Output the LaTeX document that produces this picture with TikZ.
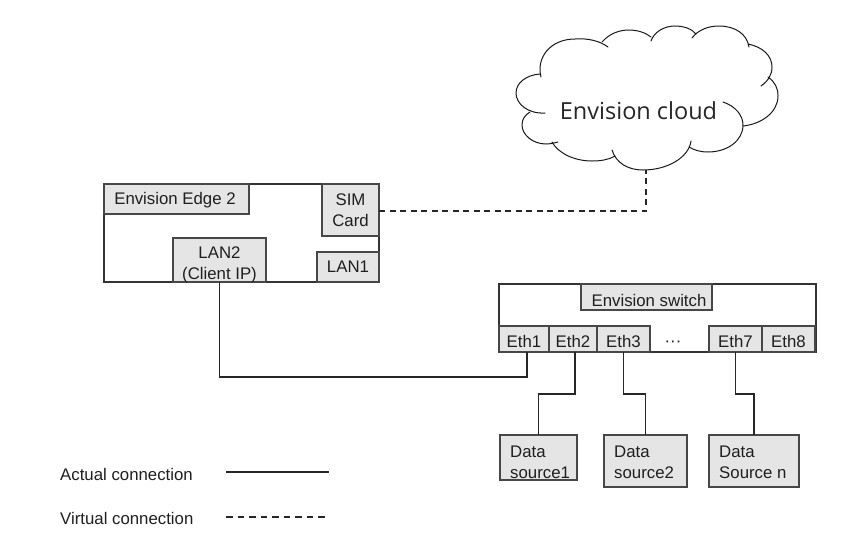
\documentclass[tikz,border=0pt]{standalone}
\usepackage{fontspec}
\setmainfont{Liberation Sans}
\newfontfamily\cloudfont{Open Sans}
\tikzset{
  x=1pt,y=-1pt,
  lbl/.style={font=\fontsize{16.8}{21}\selectfont,text=black!88,inner sep=0pt,align=center},
  gbox/.style={draw=black!72,line width=1.2pt,fill=black!10,inner sep=0pt,outer sep=0pt},
  framebox/.style={draw=black!80,line width=1.2pt,fill=white,inner sep=0pt,outer sep=0pt},
  actual/.style={draw=black!85,line width=1.2pt},
  virtual/.style={draw=black!85,line width=1.2pt,dash pattern=on 6pt off 4.5pt},
  legenddash/.style={draw=black!85,line width=1.2pt,dash pattern=on 6.5pt off 5pt},
  cloudline/.style={draw=black!90,line width=1pt,line cap=round},
}
% name, x1, y1, x2, y2, text, dx, dy
\newcommand{\gnode}[8]{%
  \node[gbox,minimum width={(#4-#2)*1pt},minimum height={(#5-#3)*1pt}] (#1) at ({(#2+#4)/2},{(#3+#5)/2}) {};
  \node[lbl] (#1text) at ({(#2+#4)/2+#7},{(#3+#5)/2+#8}) {#6};}
\newcommand{\fnode}[5]{%
  \node[framebox,minimum width={(#4-#2)*1pt},minimum height={(#5-#3)*1pt}] (#1) at ({(#2+#4)/2},{(#3+#5)/2}) {};}
% left-aligned text: name, x1, y1, x2, y2, text, text centre y
\newcommand{\lnode}[7]{%
  \node[gbox,minimum width={(#4-#2)*1pt},minimum height={(#5-#3)*1pt}] (#1) at ({(#2+#4)/2},{(#3+#5)/2}) {};
  \node[lbl,align=left,anchor=west] (#1text) at (#2+10,#7) {#6};}
\begin{document}
\begin{tikzpicture}
\useasboundingbox (0,0) rectangle (850,542);
% Cloud, drawn as overlapping arcs
\draw[cloudline]
 (541,77) .. controls (536,58) and (550,39) .. (575,39) .. controls (588,38) and (600,41) .. (608,47);
\draw[cloudline]
 (602,42) .. controls (610,33) and (620,30) .. (629,30) .. controls (638,30) and (646,33) .. (651,37);
\draw[cloudline]
 (651,41) .. controls (654,32) and (664,26) .. (675,26) .. controls (684,26) and (692,29) .. (696,34);
\draw[cloudline]
 (692,38) .. controls (698,30) and (708,26) .. (719,26) .. controls (735,26) and (747,34) .. (749,47);
\draw[cloudline]
 (748,44) .. controls (763,47) and (772,56) .. (772,67) .. controls (772,75) and (768,81) .. (761,86);
\draw[cloudline]
 (768,77) .. controls (775,82) and (778,88) .. (778,96) .. controls (778,112) and (762,124) .. (743,126);
\draw[cloudline]
 (723,102) .. controls (735,106) and (743,115) .. (743,125) .. controls (743,141) and (727,152) .. (708,152) .. controls (700,152) and (694,150) .. (689,147);
\draw[cloudline]
 (691,141) .. controls (689,157) and (668,170) .. (643,170) .. controls (628,170) and (616,163) .. (612,150);
\draw[cloudline]
 (615,156) .. controls (608,160) and (600,161) .. (592,161) .. controls (574,161) and (558,153) .. (552,142);
\draw[cloudline]
 (558,142) .. controls (554,143) and (550,144) .. (546,144) .. controls (533,144) and (522,135) .. (522,125) .. controls (522,119) and (525,115) .. (530,112);
\draw[cloudline]
 (545,113) .. controls (528,114) and (516,104) .. (516,93) .. controls (516,83) and (526,75) .. (540,74);
\node[font=\cloudfont\fontsize{23.5}{28}\selectfont,text=black!85,inner sep=0pt] (cloud) at (638.5,111) {Envision cloud};
\coordinate (cloudbottom) at (646,170);

% Edge device
\fnode{edge}{104}{184}{379}{282}
\gnode{edgetitle}{104}{184}{249}{214}{Envision Edge 2}{-1.5}{1.5}
\gnode{sim}{322}{184}{379}{236}{SIM\\Card}{0}{0}
\gnode{lan2}{173}{238}{266}{282}{LAN2\\(Client IP)}{0}{5}
\gnode{lan1}{317}{252}{379}{282}{LAN1}{0}{0}

% Switch
\fnode{switch}{499}{284}{816}{352}
\gnode{switchtitle}{581}{284}{712}{310}{Envision switch}{2.5}{3}
\gnode{eth1}{499}{326}{549}{352}{Eth1}{0}{2}
\gnode{eth2}{549}{326}{597}{352}{Eth2}{0}{2}
\gnode{eth3}{597}{326}{650}{352}{Eth3}{0}{2}
\node[lbl] (dots) at (673,344) {···};
\gnode{eth7}{709}{326}{762}{352}{Eth7}{0}{2}
\gnode{eth8}{762}{326}{815}{352}{Eth8}{0}{2}

% Data sources
\lnode{ds1}{500}{435}{577}{480}{Data\\source1}{462}
\lnode{ds2}{604}{435}{687}{487}{Data\\source2}{462}
\lnode{dsn}{709}{435}{799}{487}{Data\\Source n}{462}

% Connectors
\coordinate (bend) at (527,377);
\draw[actual] (lan2.south) |- (bend) -- ([xshift=3pt]eth1.south);
\draw[actual] ([xshift=2pt]eth2.south) -- ++(0,42) -| (ds1.north);
\draw[actual] (eth3.south) -- ++(0,42) -| (ds2.north);
\draw[actual] (eth7.south) -- ++(0,42) -| (dsn.north);
\coordinate (simport) at (379,211);
\draw[virtual] (simport) -| (cloudbottom);

% Legend
\node[lbl,anchor=west] (actualtext) at (60,474) {Actual connection};
\node[lbl,anchor=west] (virtualtext) at (60,518) {Virtual connection};
\coordinate (a1) at (226,472);
\coordinate (a2) at (329,472);
\coordinate (v1) at (226,517);
\coordinate (v2) at (327,517);
\draw[actual] (a1) -- (a2);
\draw[legenddash] (v1) -- (v2);
\end{tikzpicture}
\end{document}
